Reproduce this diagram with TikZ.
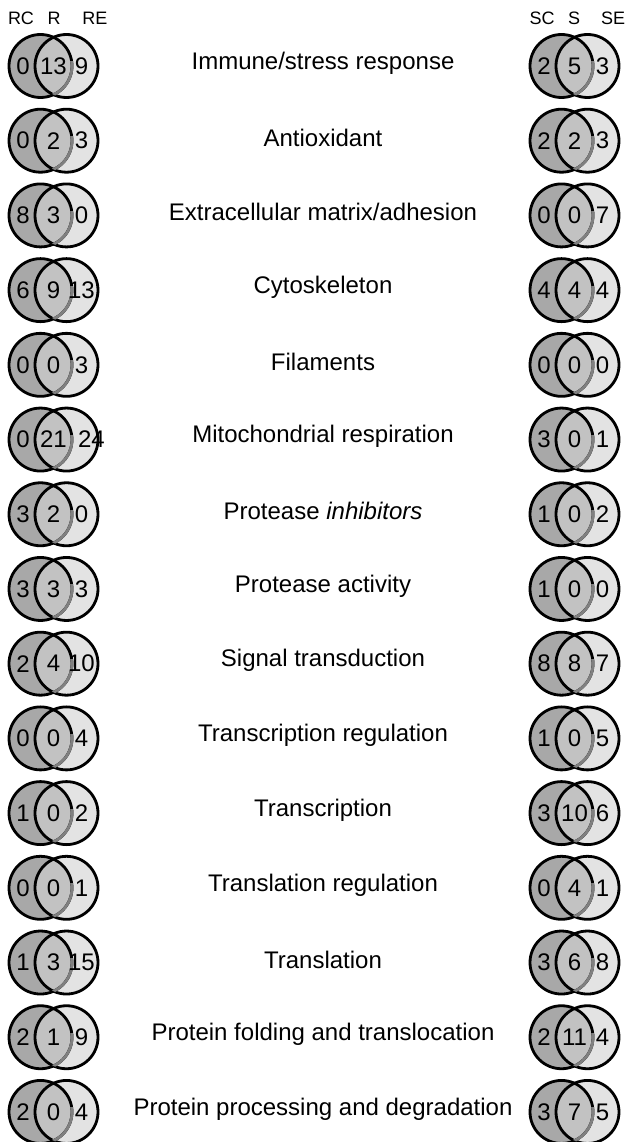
\documentclass[tikz,border=0pt]{standalone}
\usepackage{fontspec}
\setmainfont{Liberation Sans}
\usetikzlibrary{calc}
\definecolor{lgray}{gray}{0.66}
\definecolor{mgray}{gray}{0.76}
\definecolor{rgray}{gray}{0.89}

\begin{document}
\begin{tikzpicture}[x=1pt,y=-1pt,
  num/.style={font=\fontsize{24}{24}\selectfont,inner sep=0pt},
  lab/.style={font=\fontsize{24}{24}\selectfont,inner sep=0pt},
  hd/.style={font=\fontsize{18}{18}\selectfont,inner sep=0pt},
  ring/.style={draw=black,line width=2.8pt},
  faint/.style={draw=black!50,line width=2.8pt}]
  \useasboundingbox (0,0) rectangle (637,1142);
  % column heads
  \node[hd] (hrc) at (21,18) {RC};
  \node[hd] (hr) at (54,18) {R};
  \node[hd] (hre) at (95,18) {RE};
  \node[hd] (hsc) at (542,18) {SC};
  \node[hd] (hs) at (574,18) {S};
  \node[hd] (hse) at (613,18) {SE};
  % one row per category: RC/R/RE, SC/S/SE
  \foreach \i/\txt/\xa/\xb/\xc/\ya/\yb/\yc/\dx in {
    1/{Immune/stress response}/0/13/9/2/5/3/0,
    2/Antioxidant/0/2/3/2/2/3/0,
    3/{Extracellular matrix/adhesion}/8/3/0/0/0/7/0,
    4/Cytoskeleton/6/9/13/4/4/4/0,
    5/Filaments/0/0/3/0/0/0/0,
    6/Mitochondrial respiration/0/21/24/3/0/1/10,
    7/Protease \textit{inhibitors}/3/2/0/1/0/2/0,
    8/Protease activity/3/3/3/1/0/0/0,
    9/Signal transduction/2/4/10/8/8/7/0,
    10/Transcription regulation/0/0/4/1/0/5/0,
    11/Transcription/1/0/2/3/10/6/0,
    12/Translation regulation/0/0/1/0/4/1/0,
    13/Translation/1/3/15/3/6/8/0,
    14/Protein folding and translocation/2/1/9/2/11/4/0,
    15/Protein processing and degradation/2/0/4/3/7/5/0} {
    \pgfmathsetmacro{\y}{66+74.71*(\i-1)}
    \node[lab] (t\i) at (323,\y-3) {\txt};
    \foreach \side/\cx/\p/\q/\u/\sh in {r/40.5/\xa/\xb/\xc/\dx, s/561.5/\ya/\yb/\yc/0} {
      \coordinate (\side l\i) at (\cx,\y);
      \coordinate (\side r\i) at (\cx+26,\y);
      \fill[rgray] (\side r\i) circle (31.5pt);
      \fill[lgray] (\side l\i) circle (31.5pt);
      \begin{scope}
        \clip (\side l\i) circle (31.5pt);
        \fill[mgray] (\side r\i) circle (31.5pt);
      \end{scope}
      \draw[ring] (\side l\i) circle (31.5pt);
      \draw[ring] (\side r\i) circle (31.5pt);
      \begin{scope}
        \clip (\side r\i) circle (31.5pt);
        \clip (\cx,\y-4) rectangle (\cx+40,\y+40);
        \draw[faint] (\side l\i) circle (31.5pt);
      \end{scope}
      \node[num] (\side c\i) at (\cx-17.5,\y) {\p};
      \node[num] (\side m\i) at (\cx+13,\y) {\q};
      \node[num] (\side e\i) at (\cx+41+\sh,\y) {\u};
    }
  }
\end{tikzpicture}
\end{document}
